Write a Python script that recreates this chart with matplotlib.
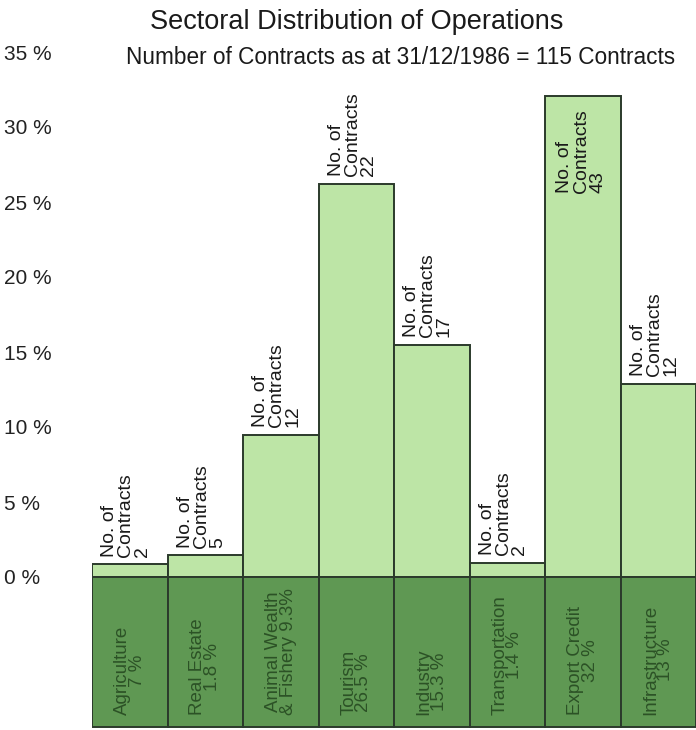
import matplotlib.pyplot as plt

# Sectors, share printed under each bar, bar heights (%)
sectors = ['Agriculture', 'Real Estate', 'Animal Wealth\n& Fishery', 'Tourism',
           'Industry', 'Transportation', 'Export Credit', 'Infrastructure']
share_labels = ['7 %', '1.8 %', '9.3%', '26.5 %', '15.3 %', '1.4 %', '32 %', '13 %']
bar_heights = [0.85, 1.45, 9.5, 26.2, 15.5, 0.95, 32.1, 12.9]
contracts = [2, 5, 12, 22, 17, 2, 43, 12]
base_depth = -10.0
yticks = [0, 5, 10, 15, 20, 25, 30, 35]

plt.rcParams['font.family'] = ['Liberation Sans', 'DejaVu Sans']

fig = plt.figure(figsize=(6.96, 7.30), dpi=100)
ax = fig.add_axes([92 / 696, 0, 1 - 92 / 696, 678 / 730])

x = list(range(len(sectors)))
light = '#bde5a6'
dark = '#5f9853'
edge = '#2b3a2b'

ax.bar(x, bar_heights, width=1.0, color=light, edgecolor=edge, linewidth=1.4)
ax.bar(x, [base_depth] * len(x), width=1.0, color=dark, edgecolor=edge, linewidth=1.4)

# Contract counts on top of each bar (inside for the tallest)
for i, h in enumerate(bar_heights):
    txt = 'No. of\nContracts\n%d' % contracts[i]
    if i == 6:
        ax.text(i - 0.5 + 0.15, h - 0.9, txt, rotation=90, ha='left', va='top',
                fontsize=14, linespacing=0.95, color='#1a1a1a')
    else:
        ax.text(i - 0.5 + 0.12, h + 0.5, txt, rotation=90, ha='left', va='bottom',
                fontsize=14, linespacing=0.95, color='#1a1a1a')

# Sector names in the dark base
for i, name in enumerate(sectors):
    if '\n' in name:
        lab = name + ' ' + share_labels[i]
    else:
        lab = name + '\n' + share_labels[i]
    ax.text(i, -9.2, lab, rotation=90, ha='center', va='bottom',
            fontsize=13.5, linespacing=0.85, color='#2c5226')

ax.set_xlim(-0.5, 7.5)
ax.set_ylim(-10.2, 35)
ax.set_xticks([])
ax.set_yticks(yticks)
ax.set_yticklabels(['%d %%' % t for t in yticks], fontsize=15, color='#222222')
for lab in ax.get_yticklabels():
    lab.set_ha('left')
ax.tick_params(axis='y', length=0, pad=63)
for s in ax.spines.values():
    s.set_visible(False)

fig.text(357 / 696, 1 - 22 / 730, 'Sectoral Distribution of Operations',
         ha='center', va='center', fontsize=19.5, color='#1a1a1a')
fig.text(401 / 696, 1 - 57 / 730, 'Number of Contracts as at 31/12/1986 = 115 Contracts',
         ha='center', va='center', fontsize=16.3, color='#1a1a1a')

plt.savefig('out.png', dpi=100)
